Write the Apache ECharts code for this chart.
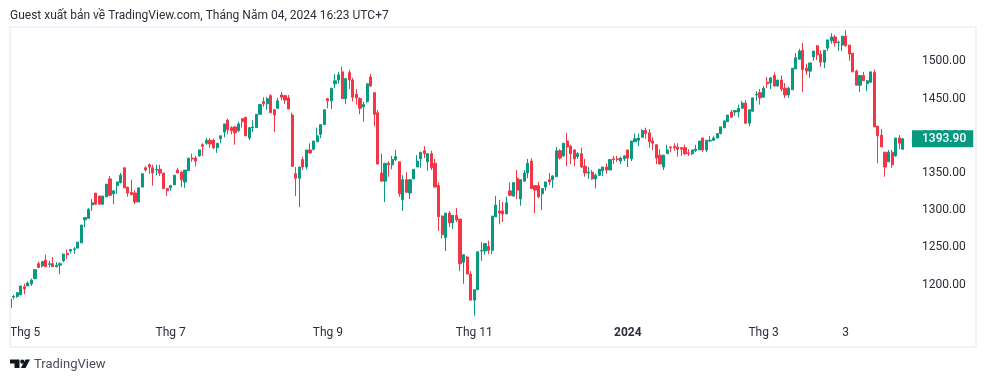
<!DOCTYPE html>
<html><head><meta charset="utf-8">
<style>html,body{margin:0;padding:0;background:#fff}#c{width:986px;height:382px}</style>
<script src="https://cdn.jsdelivr.net/npm/echarts@6/dist/echarts.min.js"></script>
</head><body><div id="c"></div>
<script>
const opens = [
1167,1181,1182,1184,1195,1196,1199,1206,1226,1223,
1231,1225,1226,1222,1224,1230,1240,1243,1245,1247,
1254,1285,1287,1305,1321,1317,1306,1316,1340,1320,
1331,1335,1355,1329,1322,1321,1309,1329,1355,1359,
1355,1352,1353,1348,1327,1328,1332,1352,1349,1336,
1351,1368,1368,1371,1386,1388,1392,1392,1382,1394,
1403,1419,1409,1410,1405,1421,1423,1395,1409,1409,
1427,1444,1441,1452,1433,1435,1453,1452,1449,1426,
1347,1341,1366,1356,1379,1380,1390,1400,1413,1448,
1445,1468,1473,1484,1448,1483,1473,1454,1448,1437,
1444,1477,1456,1429,1348,1337,1361,1359,1366,1363,
1312,1339,1321,1340,1356,1367,1378,1363,1374,1361,
1331,1290,1261,1294,1281,1291,1286,1228,1235,1212,
1177,1191,1243,1243,1249,1244,1289,1297,1297,1293,
1324,1317,1341,1313,1337,1348,1364,1331,1331,1320,
1329,1339,1339,1343,1378,1371,1391,1384,1379,1370,
1374,1357,1348,1349,1340,1345,1351,1356,1352,1367,
1367,1364,1367,1379,1367,1390,1392,1396,1405,1402,
1391,1386,1372,1356,1374,1383,1384,1383,1382,1382,
1375,1374,1378,1379,1395,1379,1391,1392,1395,1401,
1409,1417,1430,1430,1430,1435,1442,1415,1431,1453,
1456,1450,1470,1469,1479,1465,1473,1462,1453,1460,
1488,1501,1513,1489,1485,1504,1519,1508,1497,1516,
1526,1531,1523,1520,1532,1520,1509,1485,1466,1479,
1468,1470,1483,1411,1399,1376,1363,1376,1371,1395,1380];
const closes = [
1178.5,1182,1187,1196,1192,1200,1204,1218,1221,1229,
1222,1226,1222,1224,1226,1239,1238,1245,1246,1255,
1278,1288,1299,1308,1306,1306,1317,1333,1318,1324,
1336,1345,1328,1321,1319,1309,1328,1347,1352,1356,
1348,1353,1348,1327,1324,1331,1345,1348,1339,1352,
1368,1367,1364,1379,1384,1392,1387,1382,1388,1398,
1414,1406,1405,1402,1414,1417,1398,1409,1410,1427,
1440,1441,1448,1429,1426,1445,1450,1446,1434,1357,
1341,1356,1356,1379,1375,1391,1398,1413,1433,1445,
1462,1472,1480,1448,1475,1473,1450,1449,1435,1440,
1468,1465,1427,1360,1337,1361,1359,1366,1370,1320,
1339,1322,1339,1353,1364,1376,1374,1374,1355,1329,
1289,1265,1294,1281,1291,1285,1226,1238,1212,1177,
1191,1242,1244,1253,1244,1290,1305,1294,1293,1308,
1318,1335,1325,1339,1348,1361,1327,1325,1316,1327,
1336,1336,1344,1378,1368,1388,1383,1374,1367,1374,
1356,1348,1349,1340,1345,1353,1356,1352,1366,1366,
1366,1368,1371,1368,1391,1394,1395,1405,1401,1390,
1388,1368,1360,1372,1379,1382,1382,1380,1380,1374,
1374,1379,1380,1391,1379,1392,1392,1395,1401,1410,
1418,1426,1423,1432,1435,1442,1415,1433,1449,1454,
1449,1462,1468,1476,1465,1473,1461,1453,1462,1489,
1503,1512,1487,1485,1496,1512,1507,1497,1513,1527,
1531,1523,1524,1532,1519,1508,1484,1466,1479,1472,
1472,1484,1410,1398,1383,1356,1376,1359,1395,1388,1393.9];
const lows = [
1167,1178,1180,1184,1185,1196,1196,1205,1220,1221,
1222,1221,1222,1221,1212,1228,1232,1240,1239,1247,
1254,1275,1287,1297,1305,1305,1305,1316,1317,1306,
1320,1334,1328,1316,1318,1306,1309,1329,1350,1347,
1331,1345,1344,1327,1317,1324,1332,1348,1329,1328,
1351,1363,1357,1370,1371,1386,1382,1380,1375,1388,
1396,1400,1400,1386,1403,1409,1398,1392,1403,1409,
1427,1437,1433,1429,1403,1434,1446,1441,1434,1356,
1317,1302,1352,1353,1374,1378,1390,1395,1413,1435,
1434,1462,1468,1448,1441,1461,1444,1440,1427,1417,
1442,1464,1411,1360,1337,1309,1343,1353,1364,1316,
1297,1322,1313,1340,1356,1355,1368,1351,1352,1329,
1270,1260,1243,1275,1273,1282,1216,1199,1212,1177,
1156,1191,1230,1238,1239,1239,1289,1279,1282,1293,
1317,1316,1313,1304,1336,1341,1327,1294,1314,1298,
1324,1332,1328,1343,1366,1370,1357,1360,1357,1367,
1355,1343,1340,1339,1327,1344,1344,1347,1352,1360,
1363,1360,1364,1356,1364,1390,1384,1396,1394,1382,
1379,1360,1360,1352,1374,1376,1378,1370,1371,1372,
1371,1372,1376,1379,1376,1376,1390,1391,1395,1400,
1408,1417,1422,1425,1423,1435,1414,1411,1431,1445,
1440,1450,1462,1461,1464,1464,1458,1449,1449,1460,
1488,1501,1457,1480,1476,1499,1500,1491,1489,1512,
1522,1518,1512,1512,1518,1499,1484,1466,1457,1472,
1458,1470,1410,1361,1383,1343,1363,1355,1370,1380,1379];
const highs = [
1178.5,1184,1187,1196,1199,1202,1206,1218,1229,1229,
1238,1230,1235,1228,1228,1239,1245,1246,1248,1255,
1278,1288,1301,1313,1321,1317,1317,1333,1344,1324,
1336,1348,1355,1329,1339,1325,1328,1347,1357,1361,
1359,1359,1359,1348,1327,1332,1345,1355,1351,1352,
1368,1374,1371,1379,1388,1395,1395,1394,1388,1398,
1414,1421,1411,1411,1417,1422,1423,1409,1419,1427,
1441,1450,1450,1454,1434,1449,1457,1453,1453,1429,
1356,1356,1370,1379,1388,1391,1409,1413,1433,1449,
1462,1481,1484,1491,1475,1487,1476,1461,1450,1444,
1468,1481,1456,1433,1374,1361,1364,1371,1379,1363,
1345,1349,1340,1353,1372,1376,1384,1374,1378,1367,
1335,1291,1294,1297,1291,1301,1286,1238,1236,1216,
1191,1242,1255,1253,1257,1290,1317,1312,1309,1316,
1335,1335,1352,1339,1352,1367,1368,1331,1336,1327,
1336,1348,1345,1383,1380,1388,1402,1386,1380,1376,
1382,1367,1356,1352,1347,1353,1356,1361,1366,1371,
1371,1370,1372,1379,1391,1401,1401,1407,1409,1407,
1396,1386,1380,1372,1386,1384,1388,1388,1383,1386,
1380,1379,1386,1391,1395,1392,1398,1398,1401,1410,
1419,1426,1433,1432,1440,1445,1446,1433,1449,1458,
1461,1465,1477,1476,1483,1473,1479,1469,1464,1489,
1509,1515,1523,1495,1496,1512,1520,1513,1513,1527,
1536,1534,1526,1532,1540,1520,1509,1487,1479,1484,
1473,1484,1487,1411,1407,1376,1379,1379,1395,1399,1395];
const tickIndex = [0, 45, 89, 130, 173, 211, 234];
const tickLabels = ['Thg 5', 'Thg 7', 'Thg 9', 'Thg 11', '2024', 'Thg 3', '3'];
const priceTicks = [1150, 1200, 1250, 1300, 1350, 1400, 1450, 1500];
const lastPrice = 1393.9;
const titleText = 'Guest xuất bản về TradingView.com, Tháng Năm 04, 2024 16:23 UTC+7';
const brandText = 'TradingView';
const UP = '#089981', DOWN = '#F23645', TXT = '#2a2e39';
const FONT = 'Roboto, "Noto Sans", sans-serif';

const blankSlots = 2;
const categories = opens.map((_, i) => String(i));
for (let i = 0; i < blankSlots; i++) categories.push('x' + i);
const candles = opens.map((o, i) => [o, closes[i], lows[i], highs[i]]);

const chart = echarts.init(document.getElementById('c'), null, {renderer: 'canvas'});
chart.setOption({
  animation: false,
  backgroundColor: '#fff',
  title: {text: titleText, left: 5, top: 5, textStyle: {fontFamily: FONT, fontSize: 12, fontWeight: 'normal', color: TXT}},
  grid: {left: 10, right: 76, top: 28, bottom: 61.8},
  xAxis: {
    type: 'category', data: categories, boundaryGap: false,
    axisLine: {show: false}, axisTick: {show: false}, splitLine: {show: false},
    axisLabel: {
      interval: i => tickIndex.includes(i), hideOverlap: false, alignMinLabel: 'left', margin: 7,
      fontFamily: FONT, fontSize: 12, color: TXT,
      formatter: (v, i) => {
        const k = tickIndex.indexOf(i);
        if (k < 0) return '';
        return tickLabels[k] === '2024' ? '{b|2024}' : tickLabels[k];
      },
      rich: {b: {fontWeight: 'bold', fontFamily: FONT, fontSize: 12, color: TXT}}
    }
  },
  yAxis: {
    type: 'value', position: 'right', min: 1150, max: 1543, interval: 50, scale: true,
    axisLine: {show: false}, axisTick: {show: false}, splitLine: {show: false},
    axisLabel: {
      margin: 12, fontFamily: FONT, fontSize: 12, color: TXT, showMinLabel: false, showMaxLabel: false,
      formatter: v => priceTicks.includes(v) && v !== 1150 ? '{p|' + v.toFixed(2) + '}' : '',
      rich: {p: {fontFamily: FONT, fontSize: 12, color: TXT, padding: [3, 0, 0, 0]}}
    }
  },
  series: [{
    type: 'candlestick', data: candles, barWidth: 2.6, clip: true,
    itemStyle: {color: UP, color0: DOWN, borderColor: UP, borderColor0: DOWN, borderWidth: 1},
    markLine: {
      silent: true, symbol: 'none', animation: false, z: 20,
      lineStyle: {color: 'transparent', width: 1},
      data: [{yAxis: lastPrice}],
      label: {
        show: true, position: 'end', distance: 2,
        formatter: () => lastPrice.toFixed(2),
        backgroundColor: UP, color: '#fff', fontFamily: FONT, fontSize: 12, fontWeight: 500, padding: [3, 7, 2, 10]
      }
    }
  }],
  graphic: [
    {type: 'rect', z: 90, shape: {x: 0, y: 290, width: 9, height: 30}, style: {fill: '#fff'}},
    {type: 'rect', z: 100, shape: {x: 10, y: 27, width: 966, height: 320}, style: {fill: 'none', stroke: '#F0F3FA', lineWidth: 2}},
    {type: 'polygon', z: 100, shape: {points: [[10, 359.5], [19.5, 359.5], [19.5, 368], [14.5, 368], [14.5, 363.5], [10, 363.5]]}, style: {fill: '#131722'}},
    {type: 'circle', z: 100, shape: {cx: 22.3, cy: 361.7, r: 2.1}, style: {fill: '#131722'}},
    {type: 'polygon', z: 100, shape: {points: [[25.5, 359.5], [30, 359.5], [25.5, 368], [20.8, 368]]}, style: {fill: '#131722'}},
    {type: 'text', z: 100, left: 34, top: 358, style: {text: brandText, font: '13px ' + FONT, fill: '#4a4e59'}}
  ]
});
</script></body></html>
